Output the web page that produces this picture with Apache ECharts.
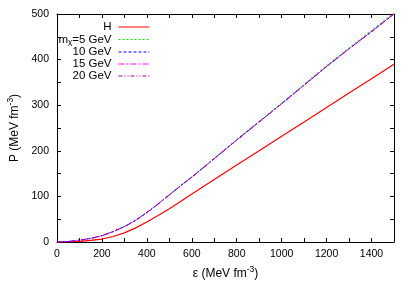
<!DOCTYPE html>
<html>
<head>
<meta charset="utf-8">
<script src="https://cdn.jsdelivr.net/npm/echarts@6/dist/echarts.min.js"></script>
<style>html,body{margin:0;padding:0;background:#fff}#c{width:415px;height:291px}</style>
</head>
<body>
<div id="c"></div>
<script>
const eps  = [0, 50, 100, 150, 200, 250, 300, 350, 400, 450, 500, 550, 600, 700, 800, 900, 1000, 1100, 1200, 1300, 1400, 1500];
const pH   = [0, 0.3, 1.5, 3.5, 6.5, 12, 20, 31, 44, 58, 73, 89, 105, 137, 169, 200, 232, 263, 295, 327, 358, 390];
const p5   = [0, 1, 4, 8, 14, 23, 34, 48, 65, 84, 104, 124, 143, 184, 225, 265, 305, 346, 387, 426, 464, 503];
const p10  = [0, 1, 3.9, 7.9, 13.8, 22.8, 33.7, 47.6, 64.5, 83.4, 103.3, 123.2, 142.1, 182.9, 223.7, 263.5, 303.3, 344.1, 384.9, 423.7, 461.5, 500.3];
const p15  = [0, 1, 3.9, 7.9, 13.8, 22.7, 33.6, 47.5, 64.4, 83.3, 103.2, 123.1, 142, 182.8, 223.6, 263.4, 303.2, 344, 384.8, 423.6, 461.4, 500.2];
const p20  = [0, 1, 3.9, 7.9, 13.7, 22.7, 33.6, 47.5, 64.4, 83.2, 103.1, 123, 141.9, 182.7, 223.5, 263.3, 303.1, 343.9, 384.7, 423.5, 461.3, 500.1];
const names = ['H', '5 GeV', '10 GeV', '15 GeV', '20 GeV'];
const xLabelStep = 200;
const yLabelStep = 100;

const pairs = arr => eps.map((e, i) => [e, arr[i]]);
const FONT = 'Liberation Sans';
const chart = echarts.init(document.getElementById('c'), null, {renderer: 'canvas'});

const axisCommon = {
  axisLine: {show: true, onZero: false, lineStyle: {color: '#000', width: 1}},
  axisTick: {show: true, inside: true, length: 4, lineStyle: {color: '#000', width: 1}},
  splitLine: {show: false}
};

function mk(name, data, color, type, width) {
  return {
    name: name, type: 'line', data: pairs(data), smooth: false, symbol: 'none',
    lineStyle: {color: color, width: width || 1, type: type},
    itemStyle: {color: color}, silent: true
  };
}

chart.setOption({
  animation: false,
  backgroundColor: '#fff',
  grid: {left: 57, right: 21, top: 14, bottom: 49, outerBoundsMode: 'none'},
  legend: {
    orient: 'vertical', align: 'right', right: 260, top: 16,
    itemWidth: 31, itemHeight: 8, itemGap: 0,
    data: names,
    itemStyle: {opacity: 0},
    lineStyle: {width: 1},
    textStyle: {fontFamily: FONT, fontSize: 11.5, color: '#000', padding: [0, 2, 0, 0], lineHeight: 10,
      rich: {
        n: {fontFamily: FONT, fontSize: 11.5, color: '#000', lineHeight: 10},
        s: {fontFamily: FONT, fontSize: 8, color: '#000', lineHeight: 10, padding: [5, 0, 0, 0]}
      }},
    formatter: function (n) { return n === '5 GeV' ? '{n|m}{s|χ}{n|=5 GeV}' : n; }
  },
  xAxis: [
    Object.assign({}, axisCommon, {
      type: 'value', min: 0, max: 1500, interval: 100,
      name: '{a|ε (MeV fm}{s|-3}{a|)}', nameLocation: 'middle', nameGap: 21,
      nameTextStyle: {rich: {
        a: {fontFamily: FONT, fontSize: 12, color: '#000'},
        s: {fontFamily: FONT, fontSize: 8.5, color: '#000', padding: [0, 0, 8, 0]}
      }},
      axisLabel: {fontFamily: FONT, fontSize: 10.5, color: '#000', margin: 7,
        formatter: v => (v % xLabelStep === 0 ? String(v) : '')}
    }),
    Object.assign({}, axisCommon, {
      type: 'value', min: 0, max: 1500, interval: 100, position: 'top',
      axisLabel: {show: false}
    })
  ],
  yAxis: [
    Object.assign({}, axisCommon, {
      type: 'value', min: 0, max: 500, interval: 50,
      name: '{a|P (MeV fm}{s|-3}{a|)}', nameLocation: 'middle', nameGap: 34, nameRotate: 90,
      nameTextStyle: {rich: {
        a: {fontFamily: FONT, fontSize: 12, color: '#000'},
        s: {fontFamily: FONT, fontSize: 8.5, color: '#000', padding: [0, 0, 8, 0]}
      }},
      axisLabel: {fontFamily: FONT, fontSize: 10.5, color: '#000', margin: 8,
        formatter: v => (v % yLabelStep === 0 ? String(v) : '')}
    }),
    Object.assign({}, axisCommon, {
      type: 'value', min: 0, max: 500, interval: 50, position: 'right',
      axisLabel: {show: false}
    })
  ],
  series: [
    mk('H', pH, '#ff0000', 'solid', 1.2),
    mk('5 GeV', p5, '#00e000', [2, 2]),
    mk('10 GeV', p10, '#0000ff', [3, 2]),
    mk('15 GeV', p15, '#ff00ff', [6, 2, 2, 2]),
    mk('20 GeV', p20, '#a000a0', [4, 2, 1, 2, 1, 2])
  ]
});
</script>
</body>
</html>
